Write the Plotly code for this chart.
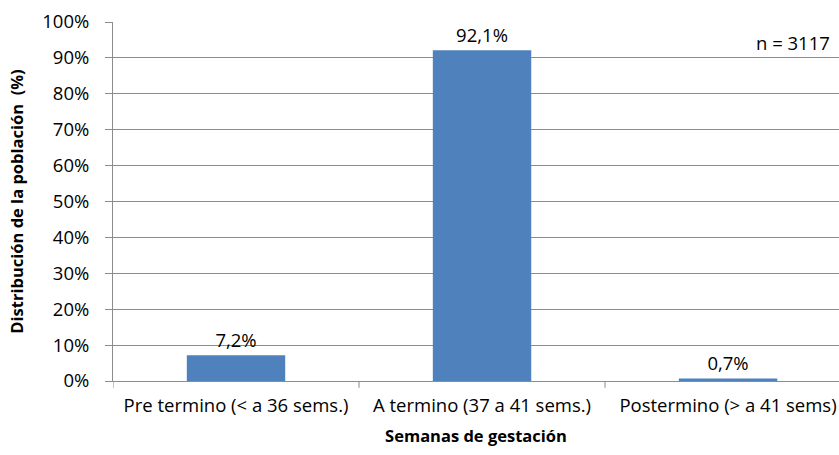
import plotly.graph_objects as go

categories = ["Pre termino (< a 36 sems.)", "A termino (37 a 41 sems.)", "Postermino (> a 41 sems)"]
values = [7.2, 92.1, 0.7]
value_labels = ["7,2%", "92,1%", "0,7%"]
y_ticks = [0, 10, 20, 30, 40, 50, 60, 70, 80, 90, 100]
y_tick_labels = [f"{v}%" for v in y_ticks]

FONT = "Open Sans, sans-serif"
GRID = "#8c8c8c"
TXT = 18.5
TITLE = 16.5

fig = go.Figure(
    go.Bar(
        x=list(range(len(categories))),
        y=values,
        width=0.4,
        marker=dict(color="#4f81bd", line=dict(width=0)),
        text=value_labels,
        textposition="outside",
        textfont=dict(family=FONT, size=TXT, color="#000000"),
        cliponaxis=False,
    )
)

fig.update_layout(
    width=839,
    height=455,
    margin=dict(l=113, r=0, t=22, b=74),
    paper_bgcolor="white",
    plot_bgcolor="white",
    showlegend=False,
    font=dict(family=FONT, size=TXT, color="#000000"),
    xaxis=dict(
        range=[-0.5, 2.451],
        tickmode="array",
        tickvals=list(range(len(categories))),
        ticktext=categories,
        showgrid=False,
        showline=True,
        linecolor=GRID,
        linewidth=1,
        ticks="",
        ticklabelstandoff=8,
        tickfont=dict(family=FONT, size=TXT),
        title=dict(text="<b>Semanas de gestación</b>", font=dict(family=FONT, size=TITLE), standoff=14),
        zeroline=False,
        fixedrange=True,
    ),
    yaxis=dict(
        range=[0, 100],
        tickmode="array",
        tickvals=y_ticks,
        ticktext=y_tick_labels,
        showgrid=True,
        gridcolor=GRID,
        gridwidth=1,
        showline=True,
        linecolor=GRID,
        linewidth=1,
        ticks="outside",
        ticklen=7,
        tickcolor=GRID,
        ticklabelstandoff=12,
        tickfont=dict(family=FONT, size=TXT),
        title=dict(text="<b>Distribución de la población\u00a0 (%)</b>", font=dict(family=FONT, size=TITLE), standoff=14),
        zeroline=False,
        fixedrange=True,
    ),
)

# category separator ticks below the x axis
for b in [-0.5, 0.5, 1.5]:
    fig.add_shape(
        type="line", xref="x", yref="paper",
        x0=b, x1=b, y0=0, y1=-0.019,
        line=dict(color=GRID, width=1),
    )

fig.add_annotation(
    text="n = 3117", xref="paper", yref="y",
    x=0.99, y=94.4, xanchor="right", yanchor="middle",
    showarrow=False, font=dict(family=FONT, size=TXT, color="#000000"),
)

fig.write_html("out.html")
